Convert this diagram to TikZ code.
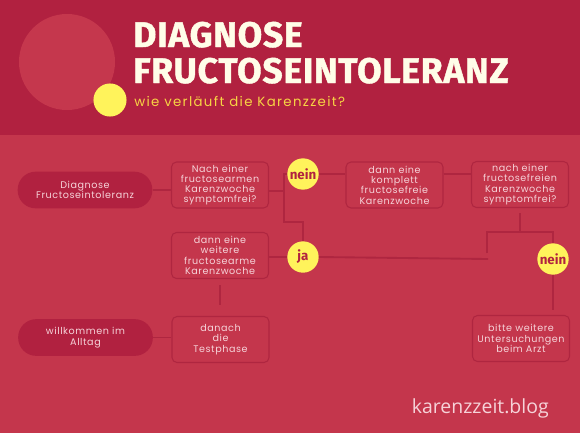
\documentclass[tikz,border=0pt]{standalone}
\usepackage{fontspec}
\setmainfont{Open Sans}
\newfontfamily\titlefont[LetterSpace=2,FakeBold=1.2]{Fira Sans}
\newfontfamily\answerfont{Fira Sans}
\newfontfamily\boxfont[LetterSpace=6]{Poppins}
\newfontfamily\subfont[LetterSpace=10]{Poppins}
\usetikzlibrary{positioning}

\definecolor{topred}{HTML}{B12140}
\definecolor{lowred}{HTML}{C4364C}
\definecolor{linered}{HTML}{AF2640}
\definecolor{sunyellow}{HTML}{FFF35B}
\definecolor{cream}{HTML}{FFFDE8}
\definecolor{pinktext}{HTML}{F6D3D9}
\definecolor{subyellow}{HTML}{F7D444}
\definecolor{blobred}{HTML}{C5374D}

\tikzset{
	stepbox/.style={draw=linered, line width=0.8pt, rounded corners=3.75pt, fill=lowred,
		minimum width=72.75pt, minimum height=34.5pt, inner sep=1pt, align=center,
		text=pinktext, font=\boxfont\fontsize{7.2pt}{7.7pt}\selectfont},
	pill/.style={fill=topred, rounded corners=13.5pt, minimum width=101pt, minimum height=27.5pt,
		inner sep=1pt, align=center, text=pinktext, font=\boxfont\fontsize{7.2pt}{7.7pt}\selectfont},
	answer/.style={circle, fill=sunyellow, minimum size=23.5pt, inner sep=0pt,
		text=topred, font=\answerfont\bfseries\fontsize{10pt}{10pt}\selectfont},
	link/.style={draw=linered, line width=1.4pt}
}

\begin{document}
\begin{tikzpicture}[x=0.75pt,y=-0.75pt]

	% background
	\fill[lowred] (0,0) rectangle (580,433);
	\fill[topred] (0,0) rectangle (580,135);
	\fill[blobred] (67,62) circle (36pt);
	\fill[sunyellow] (110,100) circle (12.4pt);

	% title
	\node[anchor=base west, inner sep=0pt, text=cream, font=\titlefont\bfseries\fontsize{26.7pt}{27pt}\selectfont] (title1) at (133,47) {DIAGNOSE};
	\node[anchor=base west, inner sep=0pt, text=cream, font=\titlefont\bfseries\fontsize{26.7pt}{27pt}\selectfont] (title2) at (133,83) {FRUCTOSEINTOLERANZ};
	\node[anchor=base west, inner sep=0pt, text=subyellow, font=\subfont\fontsize{10pt}{10pt}\selectfont] (subtitle) at (134,106) {wie verläuft die Karenzzeit?};

	% boxes
	\node[pill] (diag) at (85,190) {Diagnose\\Fructoseintoleranz};
	\node[stepbox] (q1) at (220,185) {Nach einer\\fructosearmen\\Karenzwoche\\symptomfrei?};
	\node[stepbox] (more) at (220,255.5) {dann eine\\weitere\\fructosearme\\Karenzwoche};
	\node[stepbox] (free) at (394.5,185) {dann eine\\komplett\\fructosefreie\\Karenzwoche};
	\node[stepbox] (q2) at (520,184.5) {nach einer\\fructosefreien\\Karenzwoche\\symptomfrei?};
	\node[stepbox] (doctor) at (521,338.5) {bitte weitere\\Untersuchungen\\beim Arzt};
	\node[stepbox] (test) at (220.5,339.5) {danach\\die\\Testphase};
	\node[pill] (alltag) at (85.5,337.5) {willkommen im\\Alltag};

	% answers
	\node[answer] (nein1) at (303,174) {nein};
	\node[answer] (ja) at (303,257) {ja};
	\node[answer] (nein2) at (553,259) {nein};

	% connectors
	\coordinate (fork1) at (284,191);
	\coordinate (fork1b) at (284,222);
	\coordinate (fork2) at (520,232);
	\coordinate (fork2b) at (487,253);
	\coordinate (jaend) at (488,259);

	\draw[link] (diag.east) -- (diag.east -| q1.west);
	\draw[link] (q1.east |- fork1) -- (fork1);
	\draw[link] (nein1.west) -| (fork1b) -| (ja.north);
	\draw[link] (more.east |- ja.west) -- (ja.west);
	\draw[link] (nein1.east) -- (nein1.east -| free.west);
	\draw[link] (free.east |- nein1) -- (q2.west |- nein1);
	\draw[link, shorten <=3.75pt] (q2.south) -- (fork2);
	\draw[link] (fork2b) |- (fork2) -| (nein2.north);
	\draw[link] (ja.east) -- (jaend);
	\draw[link, shorten >=3.75pt] (nein2.south) -- (nein2.south |- doctor.north);
	\draw[link, shorten <=4.5pt, shorten >=8pt] (more.south) -- (more.south |- test.north);
	\draw[link] (alltag.east) -- (alltag.east -| test.west);

	% footer
	\node[anchor=base east, inner sep=0pt, text=pinktext, font=\fontsize{14.6pt}{16pt}\selectfont] (blog) at (549,413) {karenzzeit.blog};

\end{tikzpicture}
\end{document}
